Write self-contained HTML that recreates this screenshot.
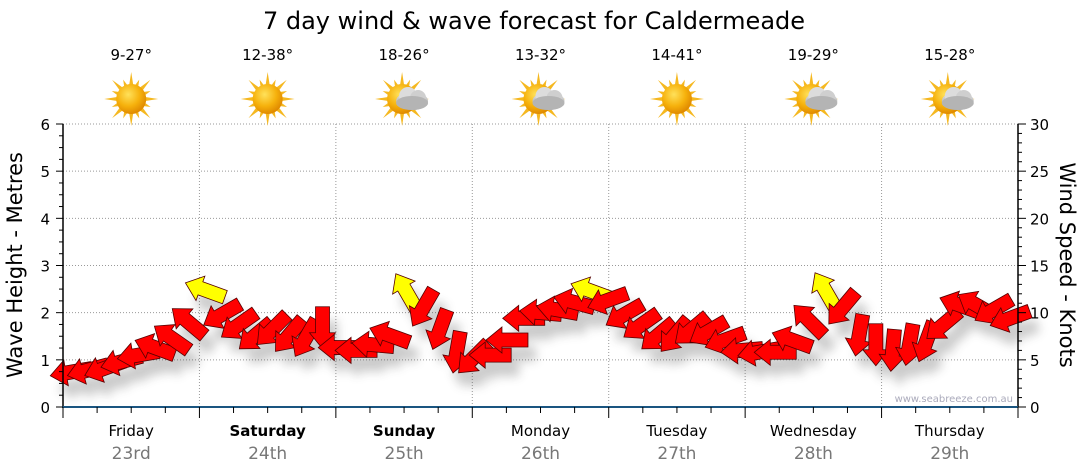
<!DOCTYPE html>
<html><head><meta charset="utf-8"><style>
body{margin:0;background:#fff;}
svg{display:block;font-family:"DejaVu Sans","Liberation Sans",sans-serif;}
</style></head><body>
<svg id="c" width="1080" height="475" viewBox="0 0 1080 475">
<defs>
<filter id="sh" x="-50%" y="-50%" width="200%" height="200%"><feGaussianBlur stdDeviation="5"/></filter>
<radialGradient id="sg" cx="40%" cy="35%" r="65%"><stop offset="0" stop-color="#ffe15a"/><stop offset="0.6" stop-color="#f6b10c"/><stop offset="1" stop-color="#e08a00"/></radialGradient>
<linearGradient id="cg" x1="0" y1="0" x2="0" y2="1"><stop offset="0" stop-color="#e6e6e6"/><stop offset="1" stop-color="#9a9a9a"/></linearGradient>
</defs>
<text x="534" y="29" font-size="24" text-anchor="middle" fill="#000">7 day wind &amp; wave forecast for Caldermeade</text>
<g id="grid"></g>
<g id="icons"></g>
<g id="shadows" filter="url(#sh)" opacity="0.25"></g>
<g id="arrows"></g>
<g id="axes"></g>
<text x="1013" y="402" font-size="10" text-anchor="end" fill="#aab">www.seabreeze.com.au</text>
<text transform="translate(22,265) rotate(-90)" font-size="21" text-anchor="middle">Wave Height - Metres</text>
<text transform="translate(1060,265) rotate(90)" font-size="21" text-anchor="middle">Wind Speed - Knots</text>
</svg>
<script>
const days=["Friday","Saturday","Sunday","Monday","Tuesday","Wednesday","Thursday"];
const dates=["23rd","24th","25th","26th","27th","28th","29th"];
const boldDays=[false,true,true,false,false,false,false];
const temps=["9-27°","12-38°","18-26°","13-32°","14-41°","19-29°","15-28°"];
const cloudy=[false,false,true,true,false,true,true];
const waveTicks=[0,1,2,3,4,5,6];
const windTicks=[0,5,10,15,20,25,30];
const windSpeed=[3.7,3.9,4.1,4.8,5.5,6.3,7.3,9.0,12.4,9.8,8.7,7.6,8.2,7.6,7.3,8.4,6.3,6.0,6.6,7.6,12.2,10.5,8.2,5.8,5.2,5.5,7.1,9.4,10.0,10.3,11.1,12.3,11.3,9.8,8.7,7.6,7.6,8.2,8.0,7.1,6.0,5.8,5.8,7.1,9.2,12.3,10.5,7.6,6.6,6.0,6.6,6.9,8.7,10.8,10.8,10.3,9.4];
const windDir=[170,165,160,165,170,200,215,220,200,150,145,140,135,130,120,90,180,180,185,200,240,120,110,100,135,180,180,180,185,190,195,200,160,150,145,140,130,140,150,160,175,170,180,200,225,240,130,100,90,95,100,110,140,200,210,150,160];
const X0=63,X1=1018,Y0=407,Y1=124;
const xs=i=>X0+8+i*(X1-X0-16)/(windSpeed.length-1);
const yw=v=>Y0-v/6*(Y0-Y1);
const yk=v=>Y0-v/30*(Y0-Y1);
const dayW=(X1-X0)/7;
const NS="http://www.w3.org/2000/svg";
function mk(p,t,a){const e=document.createElementNS(NS,t);for(const k in a)e.setAttribute(k,a[k]);document.getElementById(p).appendChild(e);return e;}
waveTicks.forEach(v=>{if(v>0){const l=mk('grid','line',{x1:X0,x2:X1,y1:yw(v),y2:yw(v),stroke:'#999','stroke-dasharray':'1,2'});

}});
for(let d=1;d<7;d++){const l=mk('grid','line',{x1:X0+d*dayW,x2:X0+d*dayW,y1:Y1,y2:Y0,stroke:'#999','stroke-dasharray':'1,2'});

}
let a=mk('axes','line',{x1:X0,x2:X0,y1:Y1,y2:Y0,stroke:'#000','stroke-width':1.5});


a=mk('axes','line',{x1:X1,x2:X1,y1:Y1,y2:Y0,stroke:'#000','stroke-width':1.5});


a=mk('axes','line',{x1:X0-1,x2:X1,y1:Y0,y2:Y0,stroke:'#1a5580','stroke-width':2});


for(let v=0;v<=6.001;v+=0.25){const maj=Math.abs(v-Math.round(v))<1e-6;mk('axes','line',{x1:X0-(maj?7:4),x2:X0,y1:yw(v),y2:yw(v),stroke:'#000'});}
for(let v=0;v<=30;v+=1){const maj=v%5==0;mk('axes','line',{x1:X1,x2:X1+(maj?8:4),y1:yk(v),y2:yk(v),stroke:'#000'});}
waveTicks.forEach(v=>{const t=mk('axes','text',{x:X0-13,y:yw(v)+6,'font-size':15,'text-anchor':'end'});t.textContent=v;

});
windTicks.forEach(v=>{const t=mk('axes','text',{x:X1+12,y:yk(v)+6,'font-size':15});t.textContent=v;

});
for(let q=0;q<=28;q++){const x=X0+q*dayW/4;const maj=q%4==0;mk('axes','line',{x1:x,x2:x,y1:Y0,y2:Y0+(maj?11:6),stroke:'#000'});}
days.forEach((d,i)=>{const cx=X0+(i+0.5)*dayW;
const t=mk('axes','text',{x:cx,y:436,'font-size':15,'text-anchor':'middle','font-weight':boldDays[i]?'bold':'normal'});t.textContent=d;


const t2=mk('axes','text',{x:cx,y:459,'font-size':17,'text-anchor':'middle',fill:'#777'});t2.textContent=dates[i];


const t3=mk('icons','text',{x:cx,y:60,'font-size':15,'text-anchor':'middle'});t3.textContent=temps[i];


const g=mk('icons','g',{transform:`translate(${cx-(cloudy[i]?2:0)},99)`});


let rays='';for(let k=0;k<16;k++){const an=k*Math.PI/8,L=k%2?21:27;rays+=`<polygon points="${Math.cos(an)*L},${Math.sin(an)*L} ${Math.cos(an+0.2)*12},${Math.sin(an+0.2)*12} ${Math.cos(an-0.2)*12},${Math.sin(an-0.2)*12}" fill="#f5b820"/>`;}
g.innerHTML=rays+'<circle r="15" fill="url(#sg)"/>'+(cloudy[i]?'<g transform="translate(10,0)"><ellipse cx="0" cy="2" rx="16" ry="9" fill="url(#cg)"/><circle cx="-4" cy="-3" r="9" fill="#dcdcdc"/><circle cx="6" cy="-1" r="8" fill="#cfcfcf"/><ellipse cx="0" cy="4" rx="16" ry="7" fill="#b4b4b4"/></g>':'');
});
const shape="-21,0 -5,-13 -5,-7 21,-7 21,7 -5,7 -5,13";
windSpeed.forEach((v,i)=>{const x=xs(i),y=yk(v);
mk('shadows','polygon',{points:shape,transform:`translate(${x+8},${y+14}) rotate(${windDir[i]-180})`,fill:'#333'});
});
windSpeed.forEach((v,i)=>{const x=xs(i),y=yk(v);
const p=mk('arrows','polygon',{points:shape,transform:`translate(${x},${y}) rotate(${windDir[i]-180})`,fill:v>=12?'#ffff00':'#ff0000',stroke:'#500','stroke-width':0.8});

});
</script>
</body></html>
